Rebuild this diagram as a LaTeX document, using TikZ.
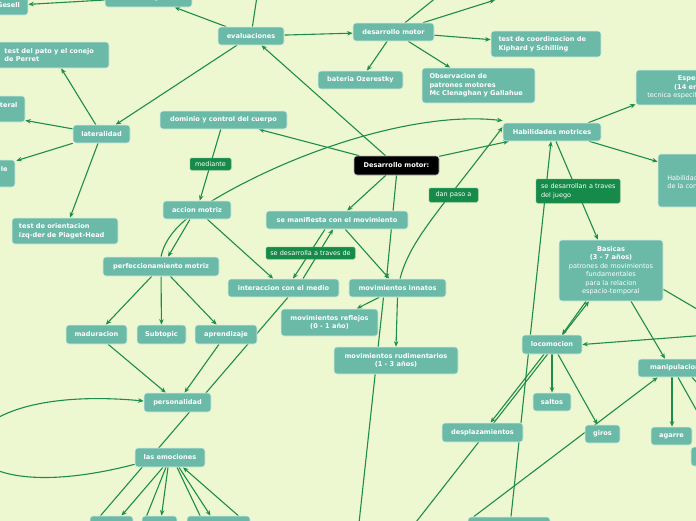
\documentclass[tikz,border=0pt]{standalone}
\usepackage{fontspec}
\setmainfont{DejaVu Sans}
\usetikzlibrary{arrows.meta,calc,backgrounds}
\definecolor{bgc}{HTML}{EEF8D0}
\definecolor{tealf}{HTML}{6BB9A7}
\definecolor{tealb}{HTML}{D6EEE4}
\definecolor{labf}{HTML}{168A48}
\definecolor{conn}{HTML}{1E8C4B}
\newcommand{\keepline}[1]{\mbox{#1}}
\begin{document}
\begin{tikzpicture}[x=1pt,y=-1pt,
 topic/.style={draw=tealb, line width=0.6pt, fill=tealf, rounded corners=3pt, text=white, font=\fontsize{6.6}{8.5}\selectfont\bfseries, inner sep=1pt, align=center},
 blk/.style={topic, fill=black, draw=white!70!black},
 lab/.style={draw=labf!80!white, line width=0.5pt, fill=labf, rounded corners=1.5pt, text=white, font=\fontsize{6.5}{8.5}\selectfont, inner sep=1pt},
 con/.style={draw=conn, line width=1.1pt},
 arr/.style={con, -{Stealth[length=5.5pt,width=4.5pt]}},
]
\useasboundingbox (0,0) rectangle (696,520);
\clip (0,0) rectangle (696,520);
% nodes
\node[topic, minimum width=39, minimum height=19] (gesell) at (8.5,5.5) {Gesell};
\node[topic, minimum width=87, minimum height=19] (desgen) at (148.5,-2.5) {desarrollo general};
\node[topic, minimum width=112, minimum height=26, align=left, text width=97] (pato) at (53,55) {\keepline{test del pato y el conejo}\\\keepline{de Perret}};
\node[topic, minimum width=128, minimum height=26, align=right, text width=113] (teral) at (-39,109) {lateral\\\mbox{}};
\node[topic, minimum width=100, minimum height=27, align=right, text width=85] (enode) at (-35,173.5) {le\\\mbox{}};
\node[topic, minimum width=57, minimum height=18] (lat) at (101.5,134) {lateralidad};
\node[topic, minimum width=66, minimum height=18] (eval) at (251,36) {evaluaciones};
\node[topic, minimum width=127, minimum height=18] (dominio) at (223.5,120) {dominio y control del cuerpo};
\node[topic, minimum width=81, minimum height=18] (desmotor) at (393.5,32) {desarrollo motor};
\node[topic, minimum width=85, minimum height=18] (bateria) at (360.5,80) {bateria Ozerestky};
\node[topic, minimum width=113, minimum height=35, align=left, text width=98] (observ) at (478.5,85.5) {\keepline{Observacion de}\\\keepline{patrones motores}\\\keepline{Mc Clenaghan y Gallahue}};
\node[topic, minimum width=110, minimum height=26, align=left, text width=95] (kiphard) at (546,44) {\keepline{test de coordinacion de}\\\keepline{Kiphard y Schilling}};
\node[topic, minimum width=138, minimum height=35] (espec) at (705,87.5) {Especializadas\\(14 en adelante)\\\mdseries tecnica especifica de cada deporte};
\node[topic, minimum width=98, minimum height=18] (habmot) at (552,132) {Habilidades motrices};
\node[topic, minimum width=87, minimum height=53, font=\fontsize{6.5}{8.5}\selectfont] (habcomp) at (701.5,180.5) {\mbox{}\\Habilidades motrices\\de la condicion fisica};
\node[topic, minimum width=104, minimum height=61] (basicas) at (611,270.5) {Basicas\\(3 - 7 años)\\\mdseries patrones de movimientos\\\mdseries fundamentales\\\mdseries para la relacion\\\mdseries espacio-temporal};
\node[blk, minimum width=85, minimum height=19] (desmot) at (396.5,165.5) {Desarrollo motor:};
\node[topic, minimum width=142, minimum height=18] (manif) at (337,220) {se manifiesta con el movimiento};
\node[topic, minimum width=111, minimum height=18] (interac) at (283.5,288) {interaccion con el medio};
\node[topic, minimum width=97, minimum height=18] (innatos) at (397.5,288) {movimientos innatos};
\node[topic, minimum width=97, minimum height=27] (reflejos) at (329.5,322.5) {movimientos reflejos\\(0 - 1 año)};
\node[topic, minimum width=124, minimum height=27] (rudim) at (396,360.5) {movimientos rudimentarios\\(1 - 3 años)};
\node[topic, minimum width=68, minimum height=18] (accion) at (197,210) {accion motriz};
\node[topic, minimum width=106, minimum height=26, align=left, text width=92] (orient) at (65,231) {\keepline{test de orientacion}\\\keepline{izq-der de Piaget-Head}};
\node[topic, minimum width=116, minimum height=19] (perfec) at (161,266.5) {perfeccionamiento motriz};
\node[topic, minimum width=61, minimum height=19] (madur) at (96.5,334.5) {maduracion};
\node[topic, minimum width=49, minimum height=19] (subtopic) at (161.5,334.5) {Subtopic};
\node[topic, minimum width=62, minimum height=19] (aprend) at (226,334.5) {aprendizaje};
\node[topic, minimum width=67, minimum height=19] (personal) at (177.5,402.5) {personalidad};
\node[topic, minimum width=70, minimum height=19] (emoc) at (170,457.5) {las emociones};
\node[topic, minimum width=43, minimum height=20] (b1) at (111.5,526) {};
\node[topic, minimum width=35, minimum height=20] (b2) at (159.5,526) {};
\node[topic, minimum width=63, minimum height=20] (b3) at (218.5,526) {};
\node[topic, minimum width=82, minimum height=20] (b4) at (509,527) {};
\node[topic, minimum width=60, minimum height=19] (locom) at (552,344.5) {locomocion};
\node[topic, minimum width=38, minimum height=18] (saltos) at (552,402) {saltos};
\node[topic, minimum width=81, minimum height=19] (despl) at (482.5,432.5) {desplazamientos};
\node[topic, minimum width=35, minimum height=18] (giros) at (602.5,434) {giros};
\node[topic, minimum width=74, minimum height=18] (manip) at (675,368) {manipulacion};
\node[topic, minimum width=41, minimum height=18] (agarre) at (671.5,436) {agarre};
\node[topic, minimum width=58, minimum height=19] (partial) at (720,456.5) {};
% labels
\node[lab, minimum width=41, minimum height=12] (mediante) at (210.5,164) {mediante};
\node[lab, minimum width=84, minimum height=24, align=left, text width=74] (juego) at (578,191) {\keepline{se desarrollan a traves}\\\keepline{del juego}};
\node[lab, minimum width=49, minimum height=14] (danpaso) at (453.5,195) {dan paso a};
\node[lab, minimum width=89, minimum height=12] (sedes) at (310.5,253) {se desarrolla a traves de};
% off-picture ends
\coordinate (evup) at (261,-30);
\coordinate (dmup1) at (458,-20);
\coordinate (dmup2) at (495,0);
\coordinate (innbot) at (355,560);
\coordinate (basbot) at (398,545);
\coordinate (basr) at (760,346);
\coordinate (locr) at (760,331);
\coordinate (manr) at (740,430);
\coordinate (emb1) at (135,545);
\coordinate (emb2) at (214,545);
\begin{scope}[on background layer]
\fill[bgc] (-10,-10) rectangle (706,530);
\draw[arr] (desgen) -- (gesell);
\draw[arr] (eval) -- (desgen);
\draw[arr] (eval) -- (lat);
\draw[arr] (eval) -- (desmotor);
\draw[arr] (eval) -- (evup);
\draw[arr] (desmotor) -- (dmup1);
\draw[arr] (desmotor) -- (dmup2);
\draw[arr] (desmotor) -- (kiphard);
\draw[arr] (desmotor) -- (bateria);
\draw[arr] (desmotor) -- (observ);
\draw[arr] (desmot) -- (eval);
\draw[arr] (desmot) -- (dominio);
\draw[arr] (desmot) -- (habmot);
\draw[arr] (desmot) -- (manif);
\draw[arr] (desmot.south) -- ($(innatos.north)+(-11,0)$);
\draw[arr] (dominio) -- (accion);
\draw[arr] (perfec.north) .. controls (166,232) and (190,210) .. (250,180) .. controls (330,140) and (430,112) .. ($(habmot.north west)+(0,-2)$);
\draw[arr] ($(innatos.north)+(2.5,0)$) .. controls (410,240) and (440,210) .. ($(habmot.west)+(0,-5)$);
\draw[arr] (habmot) -- (basicas);
\draw[arr] ($(b4.north)+(2,0)$) -- ($(habmot.south)+(-1,0)$);
\draw[arr] ($(habmot.north east)+(-13,0)$) -- ($(espec.south west)+(0,-1)$);
\draw[arr] ($(habmot.south east)+(-12,0)$) -- ($(habcomp.north west)+(0,8)$);
\draw[arr] ($(basicas.south)+(-25,0)$) -- ($(locom.north)+(10,0)$);
\draw[arr] (basbot) -- ($(basicas.south)+(-22,0)$);
\draw[arr] ($(locom.south)+(-8,0)$) -- ($(despl.north)+(8,0)$);
\draw[arr] (locom) -- (saltos);
\draw[arr] ($(locom.south)+(6,0)$) -- ($(giros.north)+(-5,0)$);
\draw[arr] ($(b4.north west)+(6,0)$) -- ($(manip.south west)+(20,0)$);
\draw[arr] ($(basicas.south)+(20,0)$) -- ($(manip.north)+(-10,0)$);
\draw[arr] ($(basicas.south east)+(0,-12)$) -- (basr);
\draw[arr] (locr) -- (locom.east);
\draw[arr] ($(manip.south)+(-3,0)$) -- ($(agarre.north)+(0.5,0)$);
\draw[arr] ($(manip.south)+(3,0)$) -- ($(partial.north)+(-3,0)$);
\draw[arr] ($(manip.south)+(17,0)$) -- (manr);
\draw[arr] (innatos) -- (reflejos);
\draw[arr] (innatos.south) -- (rudim.north);
\draw[arr] ($(innatos.south)+(-14,0)$) -- (innbot);
\draw[arr] (manif) -- (innatos);
\draw[arr] ($(manif.south)+(-12,0)$) -- ($(interac.north)+(9.5,0)$);
\draw[arr] ($(interac.north)+(19.5,0)$) -- ($(manif.south)+(-4,0)$);
\draw[arr] (accion) -- (interac);
\draw[arr] ($(accion.south)+(-7,0)$) -- ($(perfec.north)+(7,0)$);
\draw[arr] (perfec) -- (madur);
\draw[arr] (perfec) -- (subtopic);
\draw[arr] (perfec) -- (aprend);
\draw[arr] (madur) -- (personal);
\draw[arr] (aprend) -- (personal);
\draw[con] ($(interac.south)+(4.5,0)$) -- ($(b1.north)+(-11,0)$);
\draw[arr] ($(emoc.south)+(-7,0)$) -- ($(b1.north)+(10,0)$);
\draw[arr] ($(emoc.south)+(-4,0)$) -- (emb1);
\draw[arr] ($(emoc.south)+(-2,0)$) -- ($(b2.north)+(2,0)$);
\draw[arr] ($(emoc.south)+(7,0)$) -- (emb2);
\draw[arr] ($(emoc.south)+(9,0)$) -- ($(b3.north)+(-8,0)$);
\draw[arr] ($(b3.north east)+(-12,0)$) -- ($(emoc.south)+(13,0)$);
\draw[arr] ($(emoc.south west)+(0,-3)$) .. controls (-80,520) and (-80,380) .. ($(personal.west)+(0,-1.5)$);
\draw[arr] (lat) -- (pato);
\draw[arr] (lat) -- (teral);
\draw[arr] (lat.south west) -- ($(enode.north east)+(1,1)$);
\draw[arr] (lat) -- (orient);
\end{scope}
\end{tikzpicture}
\end{document}
